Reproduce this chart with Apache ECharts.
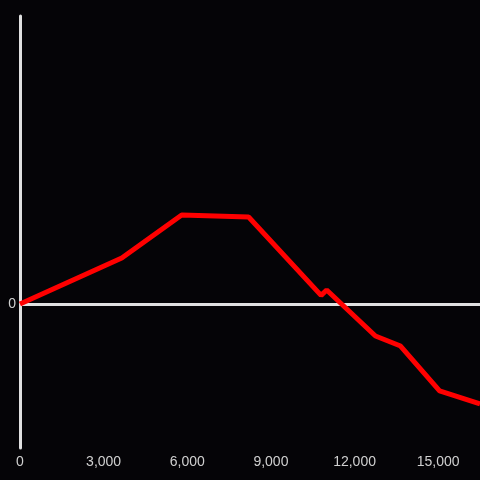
<!DOCTYPE html>
<html>
<head>
<meta charset="utf-8">
<style>
html,body{margin:0;padding:0;background:#050407;}
#c{width:480px;height:480px;}
</style>
<script src="https://cdn.jsdelivr.net/npm/echarts@6/dist/echarts.min.js"></script>
</head>
<body>
<div id="c"></div>
<script>
var xValues = [0, 3650, 5800, 8200, 10800, 11000, 12750, 13650, 15050, 16500];
var yValues = [0, 0.32, 0.618, 0.604, 0.06, 0.097, -0.222, -0.292, -0.604, -0.694];
var xTicks = [0, 3000, 6000, 9000, 12000, 15000];

var chart = echarts.init(document.getElementById('c'), null, {renderer: 'canvas'});
var pts = xValues.map(function (x, i) { return [x, yValues[i]]; });
chart.setOption({
  backgroundColor: '#050407',
  animation: false,
  grid: {left: 20, right: 0, top: 16, bottom: 32, containLabel: false},
  xAxis: {
    type: 'value', min: 0, max: 16500, interval: 3000,
    axisLine: {show: false, onZero: false},
    axisTick: {show: false},
    splitLine: {show: false},
    axisLabel: {
      color: '#d0d0d0', fontSize: 14, fontFamily: 'Liberation Sans, Arial, sans-serif',
      margin: 7, showMaxLabel: false,
      formatter: function (v) { return xTicks.indexOf(v) >= 0 ? v.toLocaleString('en-US') : ''; }
    }
  },
  yAxis: {
    type: 'value', min: -1, max: 2, interval: 1,
    axisLine: {show: true, lineStyle: {color: '#e0e0e0', width: 3}},
    axisTick: {show: false},
    splitLine: {show: false},
    axisLabel: {
      color: '#d0d0d0', fontSize: 14, fontFamily: 'Liberation Sans, Arial, sans-serif', margin: 4,
      formatter: function (v) { return v === 0 ? '0' : ''; }
    }
  },
  series: [{
    type: 'line',
    data: pts,
    symbol: 'none',
    lineStyle: {color: '#ff0000', width: 5},
    z: 3,
    markLine: {
      silent: true, symbol: ['none', 'none'], label: {show: false},
      lineStyle: {color: '#e0e0e0', width: 3, type: 'solid'},
      data: [{yAxis: 0}],
      z: 2
    }
  }]
});
</script>
</body>
</html>
